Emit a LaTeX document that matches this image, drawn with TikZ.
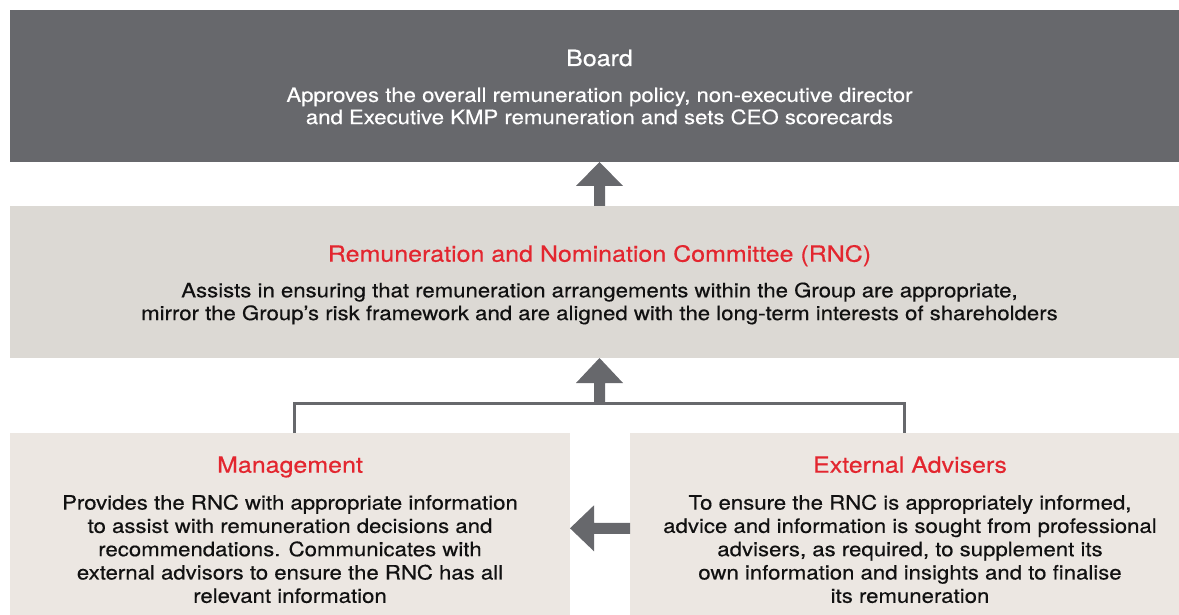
\documentclass[tikz,border=0pt]{standalone}
\usepackage{fontspec}
\setmainfont{TeX Gyre Heros}[FakeStretch=1.12, FakeBold=0.4]
\usetikzlibrary{calc}
\definecolor{boardgrey}{HTML}{67686C}
\definecolor{rncfill}{HTML}{DCD9D4}
\definecolor{lowfill}{HTML}{ECE7E2}
\definecolor{rncred}{HTML}{E3262F}
\definecolor{arrowgrey}{HTML}{67686C}
\definecolor{textblack}{HTML}{111111}
\tikzset{
  panel/.style={rectangle, inner sep=0pt, outer sep=0pt, draw=none},
  titletext/.style={inner sep=0pt, anchor=base, font=\fontsize{22.3}{26}\selectfont},
  bodytext/.style={inner sep=0pt, anchor=north, align=center, text=textblack, font=\fontsize{19.8}{23.3}\selectfont},
  arrowfill/.style={fill=arrowgrey},
  bracket/.style={draw=arrowgrey, line width=2.6pt, line join=miter},
}
\begin{document}
\begin{tikzpicture}[x=1pt,y=-1pt]
\useasboundingbox (0,0) rectangle (1179,615);
\clip (0,0) rectangle (1179,615);
% panels
\node[panel, fill=boardgrey, minimum width=1179pt, minimum height=152pt] (board) at (599.5,86) {};
\node[panel, fill=rncfill, minimum width=1179pt, minimum height=152pt] (rnc) at (599.5,282) {};
\node[panel, fill=lowfill, minimum width=560pt, minimum height=182pt] (mgmt) at (290,524) {};
\node[panel, fill=lowfill, minimum width=560pt, minimum height=182pt] (ext) at (910,524) {};
% texts
\node[titletext, text=white] (boardtitle) at (599.5,66) {Board};
\node[bodytext, text=white, font=\fontsize{19.8}{22.2}\selectfont] (boardbody) at (599.5,87.3)
  {Approves the overall remuneration policy, non-executive director\\and Executive KMP remuneration and sets CEO scorecards};
\node[titletext, text=rncred] (rnctitle) at (599.5,261.7) {Remuneration and Nomination Committee (RNC)};
\node[bodytext, font=\fontsize{19.8}{22.8}\selectfont] (rncbody) at (599.5,282.3)
  {Assists in ensuring that remuneration arrangements within the Group are appropriate,\\mirror the Group’s risk framework and are aligned with the long-term interests of shareholders};
\node[titletext, text=rncred] (mgmttitle) at (290,472.7) {Management};
\node[bodytext] (mgmtbody) at (290,494.6)
  {Provides the RNC with appropriate information\\to assist with remuneration decisions and\\recommendations. Communicates with\\external advisors to ensure the RNC has all\\relevant information};
\node[titletext, text=rncred] (exttitle) at (910,472.7) {External Advisers};
\node[bodytext] (extbody) at (910,494.6)
  {To ensure the RNC is appropriately informed,\\advice and information is sought from professional\\advisers, as required, to supplement its\\own information and insights and to finalise\\its remuneration};
% connectors
\coordinate (j) at (599.5,403.3);
\coordinate (la) at (600,528.3);
\draw[bracket] ($(mgmt.north west)+(284.3,0)$) |- (j) -| ($(ext.north west)+(274.5,0)$);
\fill[arrowfill] ($(rnc.north)+(-5.5,0)$) -- ($(board.south)+(-5.5,24)$) -- ($(board.south)+(-23.5,24)$) -- (board.south)
  -- ($(board.south)+(23.5,24)$) -- ($(board.south)+(5.5,24)$) -- ($(rnc.north)+(5.5,0)$) -- cycle;
\fill[arrowfill] ($(j)+(-5.5,0)$) -- ($(rnc.south)+(-5.5,25)$) -- ($(rnc.south)+(-23.5,25)$) -- (rnc.south)
  -- ($(rnc.south)+(23.5,25)$) -- ($(rnc.south)+(5.5,25)$) -- ($(j)+(5.5,0)$) -- cycle;
\fill[arrowfill] ($(ext.west |- la)+(0,-5.5)$) -- ($(mgmt.east |- la)+(24,-5.5)$) -- ($(mgmt.east |- la)+(24,-23)$) -- (mgmt.east |- la)
  -- ($(mgmt.east |- la)+(24,23)$) -- ($(mgmt.east |- la)+(24,5.5)$) -- ($(ext.west |- la)+(0,5.5)$) -- cycle;
\end{tikzpicture}
\end{document}
